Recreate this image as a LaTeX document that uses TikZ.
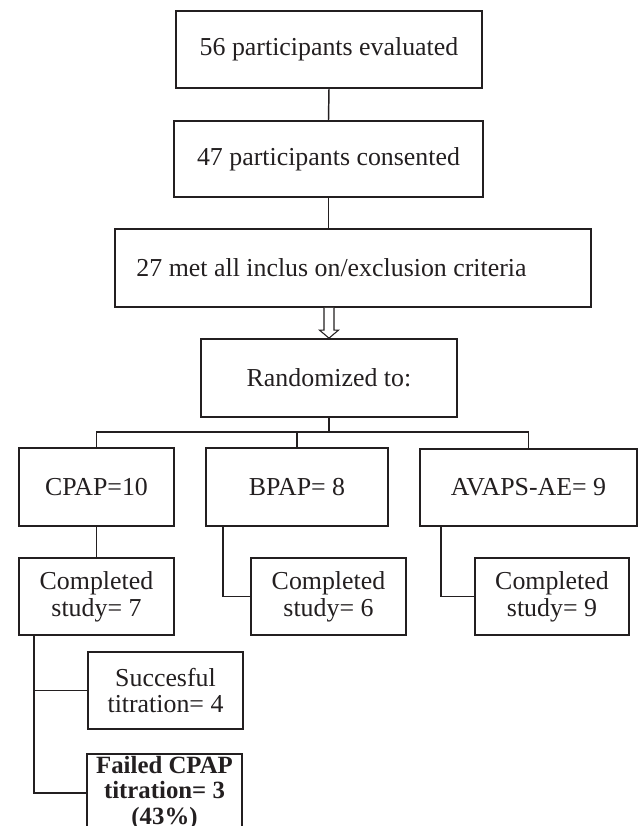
\documentclass[tikz,border=0pt]{standalone}
\usepackage{fontspec}
\setmainfont{Liberation Serif}
\usetikzlibrary{calc}
\definecolor{ink}{HTML}{231F20}
\begin{document}
\begin{tikzpicture}[x=0.75pt,y=-0.75pt,
  box/.style={draw=ink,line width=1.3pt,inner sep=0pt,align=center,text=ink,
    font=\fontsize{19.4}{20}\selectfont},
  conn/.style={draw=ink,line width=1.1pt}]
\useasboundingbox (0,0) rectangle (638,826);
\clip (0,0) rectangle (638,826);
\fill[white] (0,0) rectangle (638,826);
% boxes
\node[box,minimum width=229.5pt,minimum height=57.75pt] (b1) at (329,49.5) {56 participants evaluated};
\node[box,minimum width=231.75pt,minimum height=57pt] (b2) at (328.5,159) {47 participants consented};
\node[box,minimum width=357pt,minimum height=58.5pt] (b3) at (353,268) {};
\node[text=ink,inner sep=0pt,font=\fontsize{19.4}{20}\selectfont] (b3t) at (331.5,268) {27 met all inclus on/exclusion criteria};
\node[box,minimum width=192pt,minimum height=58.5pt] (rand) at (329,378) {Randomized to:};
\node[box,minimum width=116.25pt,minimum height=58.5pt] (cpap) at (96.5,487) {CPAP=10};
\node[box,minimum width=136.5pt,minimum height=58.5pt] (bpap) at (297,487) {BPAP= 8};
\node[box,minimum width=162.75pt,minimum height=57.75pt] (avaps) at (528.5,487.5) {AVAPS-AE= 9};
\node[box,minimum width=116.25pt,minimum height=57.75pt] (c7) at (96.5,596.5) {Completed\\study= 7};
\node[box,minimum width=116.25pt,minimum height=57.75pt] (c6) at (328.5,596.5) {Completed\\study= 6};
\node[box,minimum width=115.5pt,minimum height=57.75pt] (c9) at (552,596.5) {Completed\\study= 9};
\node[box,minimum width=116.25pt,minimum height=57.75pt] (succ) at (165.5,690.5) {Succesful\\titration= 4};
\node[box,minimum width=116.25pt,minimum height=58.5pt,font=\fontsize{18.6}{19}\selectfont\bfseries] (fail) at (164.5,793) {Failed CPAP\\titration= 3\\(43\%)};
% connectors
\draw[conn] (b1.south) -- (b2.north);
\draw[conn] (b2.south) -- (b2.south |- b3.north);
\coordinate (at) at (rand.north);
\coordinate (as) at (rand.north |- b3.south);
\draw[draw=ink,line width=0.8pt,fill=white,line join=miter]
  ($(as)+(-5,0)$) -- ($(at)+(-5,-8)$) -- ($(at)+(-9.5,-8)$) -- (at)
  -- ($(at)+(9.5,-8)$) -- ($(at)+(5,-8)$) -- ($(as)+(5,0)$);
\coordinate (j) at (329,432);
\draw[conn,line width=1.8pt] (rand.south) -- (j);
\draw[conn] (cpap.north) |- (j) -| (avaps.north);
\draw[conn] (bpap.north) -- (bpap.north |- j);
\draw[conn] (cpap.south) -- (c7.north);
\draw[conn] ([xshift=13.5pt]bpap.south west) |- (c6.west);
\draw[conn] ([xshift=16.5pt]avaps.south west) |- (c9.west);
\draw[conn] ([xshift=12pt]c7.south west) |- (succ.west);
\draw[conn] ([xshift=12pt]c7.south west) |- (fail.west);
\end{tikzpicture}
\end{document}
